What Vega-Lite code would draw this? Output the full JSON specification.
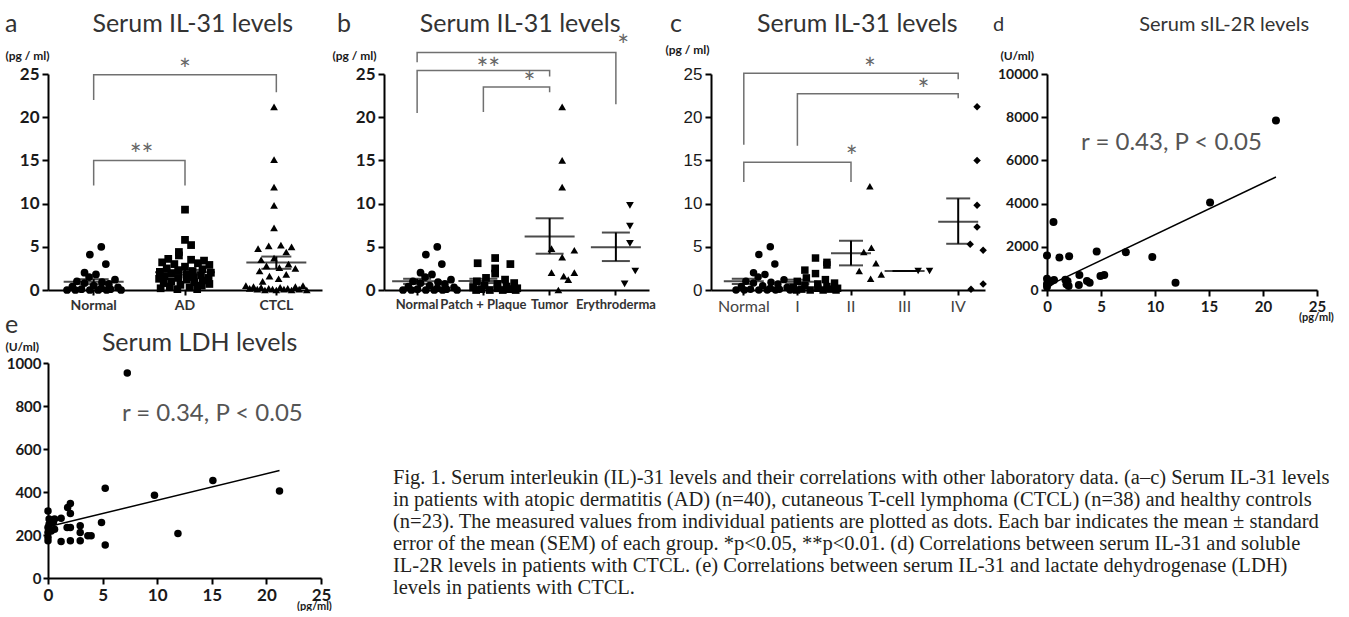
{
"$schema": "https://vega.github.io/schema/vega-lite/v6.json",
"background": "white",
"padding": {"left": 5, "top": 12, "right": 0, "bottom": 0},
"autosize": {"type": "pad"},
"config": {
 "view": {"stroke": null},
 "font": "Lato",
 "axis": {"grid": false, "domainColor": "#000", "domainWidth": 2, "tickColor": "#000", "tickWidth": 2, "labelFont": "Lato", "labelFontWeight": "bold", "labelColor": "#1a1a1a", "titleFont": "Lato", "titleFontWeight": "bold", "titleColor": "#1a1a1a", "titleFontSize": 12, "labelOverlap": false, "labelFlush": false},
 "title": {"font": "Lato", "fontSize": 25, "fontWeight": "normal", "color": "#333333", "anchor": "start", "frame": "group", "baseline": "alphabetic"}
},
"resolve": {"scale": {"shape": "independent"}},
"datasets": {
 "normal": [{"g":"Normal","v":5.0,"s":1},{"g":"Normal","v":4.1,"s":-0.5},{"g":"Normal","v":3.0,"s":1.6},{"g":"Normal","v":2.0,"s":-1.2},{"g":"Normal","v":1.8,"s":0.3},{"g":"Normal","v":1.5,"s":-0.6},{"g":"Normal","v":1.2,"s":2.8},{"g":"Normal","v":1.0,"s":-2.2},{"g":"Normal","v":0.9,"s":1.1},{"g":"Normal","v":0.8,"s":-1.2},{"g":"Normal","v":0.7,"s":2.0},{"g":"Normal","v":0.5,"s":0},{"g":"Normal","v":0.4,"s":-2.8},{"g":"Normal","v":0.3,"s":3.2},{"g":"Normal","v":0.2,"s":1.0},{"g":"Normal","v":0.1,"s":-1.6},{"g":"Normal","v":0.1,"s":2.2},{"g":"Normal","v":0,"s":-3.5},{"g":"Normal","v":0,"s":-2.4},{"g":"Normal","v":0,"s":-0.5},{"g":"Normal","v":0,"s":0.6},{"g":"Normal","v":0,"s":1.7},{"g":"Normal","v":0,"s":3.6}],
 "a_pts": [{"g":"AD","v":9.3,"s":0},{"g":"AD","v":5.8,"s":0},{"g":"AD","v":5.2,"s":0.8},{"g":"AD","v":4.4,"s":-0.8},{"g":"AD","v":4.0,"s":-0.8},{"g":"AD","v":3.6,"s":-2.2},{"g":"AD","v":3.5,"s":0.8},{"g":"AD","v":3.4,"s":2.5},{"g":"AD","v":3.2,"s":-3.0},{"g":"AD","v":3.1,"s":1.7},{"g":"AD","v":3.0,"s":-1.4},{"g":"AD","v":2.9,"s":3.2},{"g":"AD","v":2.7,"s":0},{"g":"AD","v":2.5,"s":-2.4},{"g":"AD","v":2.4,"s":2.3},{"g":"AD","v":2.3,"s":-0.9},{"g":"AD","v":2.2,"s":1.0},{"g":"AD","v":2.1,"s":-3.3},{"g":"AD","v":2.0,"s":3.4},{"g":"AD","v":1.9,"s":-1.8},{"g":"AD","v":1.8,"s":0.2},{"g":"AD","v":1.7,"s":2.1},{"g":"AD","v":1.6,"s":-2.7},{"g":"AD","v":1.5,"s":1.1},{"g":"AD","v":1.4,"s":-0.9},{"g":"AD","v":1.4,"s":3.1},{"g":"AD","v":1.3,"s":-3.4},{"g":"AD","v":1.2,"s":0.2},{"g":"AD","v":1.1,"s":2.3},{"g":"AD","v":1.0,"s":-1.8},{"g":"AD","v":0.9,"s":1.2},{"g":"AD","v":0.8,"s":-2.8},{"g":"AD","v":0.7,"s":3.2},{"g":"AD","v":0.6,"s":-0.6},{"g":"AD","v":0.5,"s":2.2},{"g":"AD","v":0.4,"s":-2.0},{"g":"AD","v":0.3,"s":0.6},{"g":"AD","v":0.2,"s":-3.2},{"g":"AD","v":0.1,"s":1.6},{"g":"AD","v":0.1,"s":-1.0},
  {"g":"CTCL","v":21.2,"s":-0.3},{"g":"CTCL","v":15.1,"s":-0.3},{"g":"CTCL","v":11.9,"s":-0.3},{"g":"CTCL","v":9.8,"s":-0.3},{"g":"CTCL","v":7.2,"s":-0.3},{"g":"CTCL","v":5.2,"s":0.6},{"g":"CTCL","v":5.1,"s":-1.0},{"g":"CTCL","v":5.0,"s":2.0},{"g":"CTCL","v":4.8,"s":-2.4},{"g":"CTCL","v":4.4,"s":1.3},{"g":"CTCL","v":3.7,"s":-0.3},{"g":"CTCL","v":3.5,"s":-2.0},{"g":"CTCL","v":3.0,"s":1.6},{"g":"CTCL","v":2.8,"s":-1.3},{"g":"CTCL","v":2.6,"s":0.4},{"g":"CTCL","v":2.5,"s":2.5},{"g":"CTCL","v":2.2,"s":-2.2},{"g":"CTCL","v":1.8,"s":1.3},{"g":"CTCL","v":1.6,"s":-0.9},{"g":"CTCL","v":1.3,"s":0.3},{"g":"CTCL","v":1.0,"s":-1.8},{"g":"CTCL","v":0.5,"s":-4.0},{"g":"CTCL","v":0.2,"s":-3.5},{"g":"CTCL","v":0.4,"s":-3.0},{"g":"CTCL","v":0.1,"s":-2.5},{"g":"CTCL","v":0.3,"s":-2.0},{"g":"CTCL","v":0,"s":-1.5},{"g":"CTCL","v":0.2,"s":-1.0},{"g":"CTCL","v":0.1,"s":-0.5},{"g":"CTCL","v":0,"s":0},{"g":"CTCL","v":0.3,"s":0.5},{"g":"CTCL","v":0.1,"s":1.0},{"g":"CTCL","v":0.2,"s":1.5},{"g":"CTCL","v":0,"s":2.0},{"g":"CTCL","v":0.4,"s":2.5},{"g":"CTCL","v":0.1,"s":3.0},{"g":"CTCL","v":0.5,"s":3.5},{"g":"CTCL","v":0,"s":4.0}],
 "a_stat": [{"g":"Normal","m":0.95,"lo":0.68,"hi":1.25},{"g":"AD","m":2.05,"lo":1.78,"hi":2.32},{"g":"CTCL","m":3.17,"lo":2.45,"hi":3.87}],
 "a_br": [{"b":1,"o":0,"g":"Normal","v":22.0},{"b":1,"o":1,"g":"Normal","v":24.9},{"b":1,"o":2,"g":"CTCL","v":24.9},{"b":1,"o":3,"g":"CTCL","v":22.9},{"b":2,"o":0,"g":"Normal","v":12.1},{"b":2,"o":1,"g":"Normal","v":15.0},{"b":2,"o":2,"g":"AD","v":15.0},{"b":2,"o":3,"g":"AD","v":12.1}],
 "a_star": [{"t":"*","g":"AD","v":26.0,"s":0},{"t":"**","g":"Normal","v":16.2,"s":6.3}],
 "b_pts": [{"g":"Patch + Plaque","v":3.7,"s":-0.1},{"g":"Patch + Plaque","v":3.1,"s":-2.4},{"g":"Patch + Plaque","v":3.0,"s":1.9},{"g":"Patch + Plaque","v":2.5,"s":-0.1},{"g":"Patch + Plaque","v":1.9,"s":-0.1},{"g":"Patch + Plaque","v":1.4,"s":-1.3},{"g":"Patch + Plaque","v":1.2,"s":1.2},{"g":"Patch + Plaque","v":1.0,"s":-2.5},{"g":"Patch + Plaque","v":0.8,"s":2.4},{"g":"Patch + Plaque","v":0.7,"s":0.2},{"g":"Patch + Plaque","v":0.5,"s":-1.5},{"g":"Patch + Plaque","v":0.4,"s":1.4},{"g":"Patch + Plaque","v":0.3,"s":-3.0},{"g":"Patch + Plaque","v":0.2,"s":2.8},{"g":"Patch + Plaque","v":0.2,"s":0.2},{"g":"Patch + Plaque","v":0.1,"s":-1.9},{"g":"Patch + Plaque","v":0.1,"s":1.8},{"g":"Patch + Plaque","v":0,"s":-0.8},{"g":"Patch + Plaque","v":0,"s":0.9},{"g":"Patch + Plaque","v":0,"s":-2.6},{"g":"Patch + Plaque","v":0,"s":2.6},
  {"g":"Tumor","v":21.2,"s":0},{"g":"Tumor","v":15.0,"s":0},{"g":"Tumor","v":11.9,"s":0},{"g":"Tumor","v":4.8,"s":-1.4},{"g":"Tumor","v":4.6,"s":1.6},{"g":"Tumor","v":3.8,"s":0},{"g":"Tumor","v":2.0,"s":-1.4},{"g":"Tumor","v":2.0,"s":1.6},{"g":"Tumor","v":1.6,"s":0.2},{"g":"Tumor","v":1.2,"s":0.8},{"g":"Tumor","v":0,"s":-0.5},
  {"g":"Erythroderma","v":9.8,"s":0.2},{"g":"Erythroderma","v":7.4,"s":0.2},{"g":"Erythroderma","v":5.4,"s":0.2},{"g":"Erythroderma","v":2.2,"s":0.9},{"g":"Erythroderma","v":0.7,"s":-0.5}],
 "b_stat": [{"g":"Normal","m":1.0,"lo":0.7,"hi":1.3},{"g":"Patch + Plaque","m":1.05,"lo":0.8,"hi":1.3},{"g":"Tumor","m":6.2,"lo":4.2,"hi":8.3},{"g":"Erythroderma","m":4.95,"lo":3.35,"hi":6.65}],
 "b_br": [{"b":1,"o":0,"g":"Normal","v":26.35},{"b":1,"o":1,"g":"Normal","v":27.5},{"b":1,"o":2,"g":"Erythroderma","v":27.5},{"b":1,"o":3,"g":"Erythroderma","v":21.5},{"b":2,"o":0,"g":"Normal","v":20.5},{"b":2,"o":1,"g":"Normal","v":25.4},{"b":2,"o":2,"g":"Tumor","v":25.4},{"b":2,"o":3,"g":"Tumor","v":24.7},{"b":3,"o":0,"g":"Patch + Plaque","v":20.6},{"b":3,"o":1,"g":"Patch + Plaque","v":23.5},{"b":3,"o":2,"g":"Tumor","v":23.5},{"b":3,"o":3,"g":"Tumor","v":22.9}],
 "b_star": [{"t":"*","g":"Erythroderma","v":28.8,"s":-0.7},{"t":"**","g":"Patch + Plaque","v":26.2,"s":-1.0},{"t":"*","g":"Patch + Plaque","v":24.5,"s":4.4}],
 "c_pts": [{"g":"I","v":3.7,"s":-0.1},{"g":"I","v":3.2,"s":1.4},{"g":"I","v":2.9,"s":1.4},{"g":"I","v":2.3,"s":-1.5},{"g":"I","v":1.9,"s":-0.1},{"g":"I","v":1.4,"s":-1.3},{"g":"I","v":1.2,"s":1.2},{"g":"I","v":1.0,"s":-2.5},{"g":"I","v":0.8,"s":2.4},{"g":"I","v":0.7,"s":0.2},{"g":"I","v":0.5,"s":-1.5},{"g":"I","v":0.4,"s":1.4},{"g":"I","v":0.3,"s":-3.0},{"g":"I","v":0.2,"s":2.8},{"g":"I","v":0.2,"s":0.2},{"g":"I","v":0.1,"s":-1.9},{"g":"I","v":0.1,"s":1.8},{"g":"I","v":0,"s":-0.8},{"g":"I","v":0,"s":0.9},{"g":"I","v":0,"s":-2.6},{"g":"I","v":0,"s":2.6},
  {"g":"II","v":12.0,"s":0},{"g":"II","v":4.9,"s":0.2},{"g":"II","v":4.4,"s":-0.8},{"g":"II","v":3.1,"s":0.8},{"g":"II","v":2.2,"s":-1.4},{"g":"II","v":1.8,"s":1.5},{"g":"II","v":1.3,"s":0.1},
  {"g":"III","v":2.2,"s":-0.7},{"g":"III","v":2.2,"s":0.8},
  {"g":"IV","v":21.2,"s":0},{"g":"IV","v":15.0,"s":0},{"g":"IV","v":9.8,"s":0},{"g":"IV","v":7.3,"s":0},{"g":"IV","v":5.3,"s":-0.9},{"g":"IV","v":4.6,"s":0.8},{"g":"IV","v":0.7,"s":0.8},{"g":"IV","v":0.1,"s":-0.8}],
 "c_stat": [{"g":"Normal","m":1.0,"lo":0.7,"hi":1.3},{"g":"I","m":0.95,"lo":0.7,"hi":1.2},{"g":"II","m":4.25,"lo":2.85,"hi":5.7},{"g":"III","m":2.2,"lo":2.2,"hi":2.2},{"g":"IV","m":7.9,"lo":5.35,"hi":10.6}],
 "c_br": [{"b":1,"o":0,"g":"Normal","v":16.8},{"b":1,"o":1,"g":"Normal","v":25.1},{"b":1,"o":2,"g":"IV","v":25.1},{"b":1,"o":3,"g":"IV","v":24.4},{"b":2,"o":0,"g":"I","v":16.7},{"b":2,"o":1,"g":"I","v":22.7},{"b":2,"o":2,"g":"IV","v":22.7},{"b":2,"o":3,"g":"IV","v":22.2},{"b":3,"o":0,"g":"Normal","v":12.5},{"b":3,"o":1,"g":"Normal","v":14.8},{"b":3,"o":2,"g":"II","v":14.8},{"b":3,"o":3,"g":"II","v":12.5}],
 "c_star": [{"t":"*","g":"II","v":26.2,"s":0},{"t":"*","g":"III","v":23.7,"s":0},{"t":"*","g":"II","v":16.0,"s":-2.4}],
 "d_pts": [{"x":21.2,"y":7850},{"x":15.1,"y":4050},{"x":0.6,"y":3150},{"x":0,"y":1600},{"x":1.15,"y":1500},{"x":2.05,"y":1560},{"x":4.6,"y":1780},{"x":7.3,"y":1750},{"x":9.75,"y":1530},{"x":11.9,"y":340},{"x":3.0,"y":700},{"x":2.95,"y":230},{"x":1.9,"y":400},{"x":1.8,"y":270},{"x":2.0,"y":180},{"x":3.7,"y":420},{"x":3.95,"y":340},{"x":4.95,"y":650},{"x":5.3,"y":700},{"x":0,"y":520},{"x":0,"y":280},{"x":0.4,"y":400},{"x":0.65,"y":460},{"x":0,"y":150},{"x":0.2,"y":330},{"x":1.7,"y":480}],
 "d_fit": [{"x":0,"y":180},{"x":21.2,"y":5230}],
 "e_pts": [{"x":7.26,"y":954},{"x":5.24,"y":417},{"x":9.75,"y":385},{"x":15.1,"y":454},{"x":21.2,"y":405},{"x":11.9,"y":207},{"x":5.24,"y":153},{"x":4.9,"y":258},{"x":0,"y":312},{"x":0.1,"y":274},{"x":0.6,"y":274},{"x":1.2,"y":278},{"x":1.8,"y":328},{"x":2.05,"y":346},{"x":2.05,"y":300},{"x":1.75,"y":235},{"x":2.05,"y":235},{"x":1.2,"y":170},{"x":2.05,"y":173},{"x":2.95,"y":243},{"x":2.95,"y":212},{"x":2.95,"y":173},{"x":3.65,"y":196},{"x":3.95,"y":196},{"x":0,"y":235},{"x":0,"y":173},{"x":0,"y":189},{"x":0.3,"y":219},{"x":0.6,"y":227},{"x":0,"y":212},{"x":0.1,"y":250},{"x":0.5,"y":260}],
 "e_fit": [{"x":0,"y":238},{"x":21.2,"y":500}],
 "cap": [{"line":1,"t":"Fig. 1. Serum interleukin (IL)-31 levels and their correlations with other laboratory data. (a–c) Serum IL-31 levels"},{"line":2,"t":"in patients with atopic dermatitis (AD) (n=40), cutaneous T-cell lymphoma (CTCL) (n=38) and healthy controls"},{"line":3,"t":"(n=23). The measured values from individual patients are plotted as dots. Each bar indicates the mean ± standard"},{"line":4,"t":"error of the mean (SEM) of each group. *p<0.05, **p<0.01. (d) Correlations between serum IL-31 and soluble"},{"line":5,"t":"IL-2R levels in patients with CTCL. (e) Correlations between serum IL-31 and lactate dehydrogenase (LDH)"},{"line":6,"t":"levels in patients with CTCL."}]
},
"concat": [
 {
  "width": 274, "height": 216,
  "title": {"text": "a\u2003\u2003\u2003\u2002\u2009\u2009Serum IL-31 levels", "dx": -43, "offset": 12},
  "encoding": {"x": {"field": "g", "type": "nominal", "title": null, "scale": {"domain": ["Normal","AD","CTCL"], "paddingInner": 0, "paddingOuter": 0}, "axis": {"labelAngle": 0, "labelFontSize": 14, "labelPadding": 3, "tickSize": 5, "labelColor": "#333"}}},
  "layer": [
   {"data": {"name": "normal"}, "mark": {"type": "point", "filled": true, "size": 60, "opacity": 1, "color": "#000", "strokeWidth": 0},
    "encoding": {"xOffset": {"field": "s", "type": "quantitative", "scale": {"domain": [-6, 6]}},
     "y": {"field": "v", "type": "quantitative", "scale": {"domain": [0, 25], "nice": false}, "axis": {"values": [0,5,10,15,20,25], "title": "(pg / ml)", "titleAngle": 0, "titleAlign": "left", "titleBaseline": "middle", "titleX": -43, "titleY": -19, "labelFontSize": 17, "labelPadding": 3, "tickSize": 6}},
     "shape": {"field": "g", "type": "nominal", "scale": {"domain": ["Normal","AD","CTCL"], "range": ["circle","square","triangle-up"]}, "legend": null}}},
   {"data": {"name": "a_pts"}, "mark": {"type": "point", "filled": true, "size": 60, "opacity": 1, "color": "#000", "strokeWidth": 0},
    "encoding": {"xOffset": {"field": "s", "type": "quantitative", "scale": {"domain": [-6, 6]}},
     "y": {"field": "v", "type": "quantitative", "scale": {"domain": [0, 25], "nice": false}},
     "shape": {"field": "g", "type": "nominal", "scale": {"domain": ["Normal","AD","CTCL"], "range": ["circle","square","triangle-up"]}, "legend": null}}},
   {"data": {"name": "a_stat"}, "mark": {"type": "tick", "thickness": 2, "size": 60, "color": "#000"}, "encoding": {"y": {"field": "m", "type": "quantitative", "scale": {"domain": [0, 25], "nice": false}}}},
   {"data": {"name": "a_stat"}, "mark": {"type": "tick", "thickness": 2, "size": 30, "color": "#000"}, "encoding": {"y": {"field": "lo", "type": "quantitative", "scale": {"domain": [0, 25], "nice": false}}}},
   {"data": {"name": "a_stat"}, "mark": {"type": "tick", "thickness": 2, "size": 30, "color": "#000"}, "encoding": {"y": {"field": "hi", "type": "quantitative", "scale": {"domain": [0, 25], "nice": false}}}},
   {"data": {"name": "a_stat"}, "mark": {"type": "rule", "strokeWidth": 2, "color": "#000"}, "encoding": {"y": {"field": "lo", "type": "quantitative", "scale": {"domain": [0, 25], "nice": false}}, "y2": {"field": "hi"}}},
   {"data": {"name": "a_br"}, "mark": {"type": "line", "color": "#707070", "strokeWidth": 1.5}, "encoding": {"y": {"field": "v", "type": "quantitative", "scale": {"domain": [0, 25], "nice": false}}, "detail": {"field": "b", "type": "nominal"}, "order": {"field": "o", "type": "quantitative"}}},
   {"data": {"name": "a_star"}, "mark": {"type": "text", "font": "Lato", "fontSize": 28, "color": "#666", "baseline": "middle", "dy": 7}, "encoding": {"xOffset": {"field": "s", "type": "quantitative", "scale": {"domain": [-6, 6]}}, "y": {"field": "v", "type": "quantitative", "scale": {"domain": [0, 25], "nice": false}}, "text": {"field": "t", "type": "nominal"}}}
  ]
 },
 {
  "width": 265, "height": 216,
  "title": {"text": "b\u2003\u2003\u2003\u2002Serum IL-31 levels", "dx": -47, "offset": -3},
  "encoding": {"x": {"field": "g", "type": "nominal", "title": null, "scale": {"domain": ["Normal","Patch + Plaque","Tumor","Erythroderma"], "paddingInner": 0, "paddingOuter": 0}, "axis": {"labelAngle": 0, "labelFontSize": 13, "labelPadding": 3, "tickSize": 5, "labelColor": "#333"}}},
  "layer": [
   {"data": {"name": "normal"}, "mark": {"type": "point", "filled": true, "size": 60, "opacity": 1, "color": "#000", "strokeWidth": 0},
    "encoding": {"xOffset": {"field": "s", "type": "quantitative", "scale": {"domain": [-4.42, 4.42]}},
     "y": {"field": "v", "type": "quantitative", "scale": {"domain": [0, 25], "nice": false}, "axis": {"values": [0,5,10,15,20,25], "title": "(pg / ml)", "titleAngle": 0, "titleAlign": "left", "titleBaseline": "middle", "titleX": -52, "titleY": -19, "labelFontSize": 17, "labelPadding": 3, "tickSize": 6}},
     "shape": {"field": "g", "type": "nominal", "scale": {"domain": ["Normal","Patch + Plaque","Tumor","Erythroderma"], "range": ["circle","square","triangle-up","triangle-down"]}, "legend": null}}},
   {"data": {"name": "b_pts"}, "mark": {"type": "point", "filled": true, "size": 60, "opacity": 1, "color": "#000", "strokeWidth": 0},
    "encoding": {"xOffset": {"field": "s", "type": "quantitative", "scale": {"domain": [-4.42, 4.42]}},
     "y": {"field": "v", "type": "quantitative", "scale": {"domain": [0, 25], "nice": false}},
     "shape": {"field": "g", "type": "nominal", "scale": {"domain": ["Normal","Patch + Plaque","Tumor","Erythroderma"], "range": ["circle","square","triangle-up","triangle-down"]}, "legend": null}}},
   {"data": {"name": "b_stat"}, "mark": {"type": "tick", "thickness": 2, "size": 50, "color": "#000"}, "encoding": {"y": {"field": "m", "type": "quantitative", "scale": {"domain": [0, 25], "nice": false}}}},
   {"data": {"name": "b_stat"}, "mark": {"type": "tick", "thickness": 2, "size": 28, "color": "#000"}, "encoding": {"y": {"field": "lo", "type": "quantitative", "scale": {"domain": [0, 25], "nice": false}}}},
   {"data": {"name": "b_stat"}, "mark": {"type": "tick", "thickness": 2, "size": 28, "color": "#000"}, "encoding": {"y": {"field": "hi", "type": "quantitative", "scale": {"domain": [0, 25], "nice": false}}}},
   {"data": {"name": "b_stat"}, "mark": {"type": "rule", "strokeWidth": 2, "color": "#000"}, "encoding": {"y": {"field": "lo", "type": "quantitative", "scale": {"domain": [0, 25], "nice": false}}, "y2": {"field": "hi"}}},
   {"data": {"name": "b_br"}, "mark": {"type": "line", "color": "#707070", "strokeWidth": 1.5}, "encoding": {"y": {"field": "v", "type": "quantitative", "scale": {"domain": [0, 25], "nice": false}}, "detail": {"field": "b", "type": "nominal"}, "order": {"field": "o", "type": "quantitative"}}},
   {"data": {"name": "b_star"}, "mark": {"type": "text", "font": "Lato", "fontSize": 28, "color": "#666", "baseline": "middle", "dy": 7}, "encoding": {"xOffset": {"field": "s", "type": "quantitative", "scale": {"domain": [-4.42, 4.42]}}, "y": {"field": "v", "type": "quantitative", "scale": {"domain": [0, 25], "nice": false}}, "text": {"field": "t", "type": "nominal"}}}
  ]
 },
 {
  "width": 274, "height": 216,
  "title": {"text": "c\u2003\u2003\u2003\u2002\u2009\u2009Serum IL-31 levels", "dx": -41, "offset": 6},
  "encoding": {"x": {"field": "g", "type": "nominal", "title": null, "scale": {"domain": ["Normal","I","II","III","IV"], "paddingInner": 0, "paddingOuter": 0.056, "align": 1}, "axis": {"labelAngle": 0, "labelFontSize": 16, "labelFontWeight": "normal", "labelPadding": 3, "tickSize": 5, "labelColor": "#444"}}},
  "layer": [
   {"data": {"name": "normal"}, "mark": {"type": "point", "filled": true, "size": 56, "opacity": 1, "color": "#000", "strokeWidth": 0},
    "encoding": {"xOffset": {"field": "s", "type": "quantitative", "scale": {"domain": [-3.57, 3.57]}},
     "y": {"field": "v", "type": "quantitative", "scale": {"domain": [0, 25], "nice": false}, "axis": {"values": [0,5,10,15,20,25], "title": "(pg / ml)", "titleAngle": 0, "titleAlign": "left", "titleBaseline": "middle", "titleX": -46, "titleY": -25, "labelFont": "Liberation Sans", "labelFontWeight": "normal", "labelFontSize": 17, "labelPadding": 3, "tickSize": 6}},
     "shape": {"field": "g", "type": "nominal", "scale": {"domain": ["Normal","I","II","III","IV"], "range": ["circle","square","triangle-up","triangle-down","diamond"]}, "legend": null}}},
   {"data": {"name": "c_pts"}, "mark": {"type": "point", "filled": true, "size": 56, "opacity": 1, "color": "#000", "strokeWidth": 0},
    "encoding": {"xOffset": {"field": "s", "type": "quantitative", "scale": {"domain": [-3.57, 3.57]}},
     "y": {"field": "v", "type": "quantitative", "scale": {"domain": [0, 25], "nice": false}},
     "shape": {"field": "g", "type": "nominal", "scale": {"domain": ["Normal","I","II","III","IV"], "range": ["circle","square","triangle-up","triangle-down","diamond"]}, "legend": null}}},
   {"data": {"name": "c_stat"}, "mark": {"type": "tick", "thickness": 2, "size": 40, "color": "#000"}, "encoding": {"y": {"field": "m", "type": "quantitative", "scale": {"domain": [0, 25], "nice": false}}}},
   {"data": {"name": "c_stat"}, "mark": {"type": "tick", "thickness": 2, "size": 24, "color": "#000"}, "encoding": {"y": {"field": "lo", "type": "quantitative", "scale": {"domain": [0, 25], "nice": false}}}},
   {"data": {"name": "c_stat"}, "mark": {"type": "tick", "thickness": 2, "size": 24, "color": "#000"}, "encoding": {"y": {"field": "hi", "type": "quantitative", "scale": {"domain": [0, 25], "nice": false}}}},
   {"data": {"name": "c_stat"}, "mark": {"type": "rule", "strokeWidth": 2, "color": "#000"}, "encoding": {"y": {"field": "lo", "type": "quantitative", "scale": {"domain": [0, 25], "nice": false}}, "y2": {"field": "hi"}}},
   {"data": {"name": "c_br"}, "mark": {"type": "line", "color": "#707070", "strokeWidth": 1.5}, "encoding": {"y": {"field": "v", "type": "quantitative", "scale": {"domain": [0, 25], "nice": false}}, "detail": {"field": "b", "type": "nominal"}, "order": {"field": "o", "type": "quantitative"}}},
   {"data": {"name": "c_star"}, "mark": {"type": "text", "font": "Lato", "fontSize": 28, "color": "#666", "baseline": "middle", "dy": 7}, "encoding": {"xOffset": {"field": "s", "type": "quantitative", "scale": {"domain": [-3.57, 3.57]}}, "y": {"field": "v", "type": "quantitative", "scale": {"domain": [0, 25], "nice": false}}, "text": {"field": "t", "type": "nominal"}}}
  ]
 },
 {
  "width": 270, "height": 216,
  "title": {"text": "d\u2003\u2003\u2003\u2003\u2003\u2003\u2003\u2003\u2003Serum sIL-2R levels", "fontSize": 20, "dx": -54, "offset": 14},
  "encoding": {
   "x": {"field": "x", "type": "quantitative", "title": "(pg/ml)", "scale": {"domain": [0, 25], "nice": false}, "axis": {"values": [0,5,10,15,20,25], "titleX": 269, "titleY": 27, "titleAlign": "center", "titleBaseline": "middle", "titleFontSize": 11, "labelFontSize": 15, "labelPadding": 3, "tickSize": 6}},
   "y": {"field": "y", "type": "quantitative", "title": "(U/ml)", "scale": {"domain": [0, 10000], "nice": false}, "axis": {"values": [0,2000,4000,6000,8000,10000], "format": "d", "titleAngle": 0, "titleAlign": "left", "titleBaseline": "middle", "titleX": -47, "titleY": -19, "labelFontSize": 14, "labelPadding": 3, "tickSize": 6}}
  },
  "layer": [
   {"data": {"name": "d_pts"}, "mark": {"type": "circle", "size": 64, "opacity": 1, "color": "#000"}},
   {"data": {"name": "d_fit"}, "mark": {"type": "line", "color": "#000", "strokeWidth": 1.5}},
   {"data": {"values": [{"t": "r = 0.43, P < 0.05", "x": 3.15, "y": 6790}]}, "mark": {"type": "text", "align": "left", "baseline": "middle", "font": "Lato", "fontSize": 24, "color": "#555"}, "encoding": {"text": {"field": "t", "type": "nominal"}}}
  ]
 },
 {
  "width": 273, "height": 215,
  "title": {"text": "e", "subtitle": "\u200b\u2003\u2003\u2003\u2003\u2003\u2009Serum LDH levels", "subtitleFont": "Lato", "subtitleFontSize": 25, "subtitleColor": "#333333", "subtitlePadding": -7, "dx": -43, "offset": -16},
  "encoding": {
   "x": {"field": "x", "type": "quantitative", "title": "(pg/ml)", "scale": {"domain": [0, 25], "nice": false}, "axis": {"values": [0,5,10,15,20,25], "titleX": 266, "titleY": 28, "titleAlign": "center", "titleBaseline": "middle", "titleFontSize": 11, "labelFontSize": 17, "labelPadding": 3, "tickSize": 6}},
   "y": {"field": "y", "type": "quantitative", "title": "(U/ml)", "scale": {"domain": [0, 1000], "nice": false}, "axis": {"values": [0,200,400,600,800,1000], "format": "d", "titleAngle": 0, "titleAlign": "left", "titleBaseline": "middle", "titleX": -43, "titleY": -17, "labelFontSize": 15, "labelPadding": 2, "tickSize": 5}}
  },
  "layer": [
   {"data": {"name": "e_pts"}, "mark": {"type": "circle", "size": 56, "opacity": 1, "color": "#000"}},
   {"data": {"name": "e_fit"}, "mark": {"type": "line", "color": "#000", "strokeWidth": 1.5}},
   {"data": {"values": [{"t": "r = 0.34, P < 0.05", "x": 6.77, "y": 763}]}, "mark": {"type": "text", "align": "left", "baseline": "middle", "font": "Lato", "fontSize": 24, "color": "#555"}, "encoding": {"text": {"field": "t", "type": "nominal"}}}
  ]
 },
 {
  "width": 260, "height": 225,
  "data": {"name": "cap"},
  "mark": {"type": "text", "align": "left", "baseline": "middle", "font": "Liberation Serif", "fontSize": 20.5, "color": "#231f20"},
  "encoding": {
   "x": {"datum": 0, "type": "quantitative", "scale": {"domain": [-9, 251], "nice": false, "zero": false}, "axis": null},
   "y": {"field": "line", "type": "quantitative", "scale": {"domain": [-4.227, 6], "reverse": true, "nice": false, "zero": false}, "axis": null},
   "text": {"field": "t", "type": "nominal"}
  }
 }
],
"columns": 4,
"spacing": {"row": 73, "column": 62},
"bounds": "flush",
"align": "each"
}
